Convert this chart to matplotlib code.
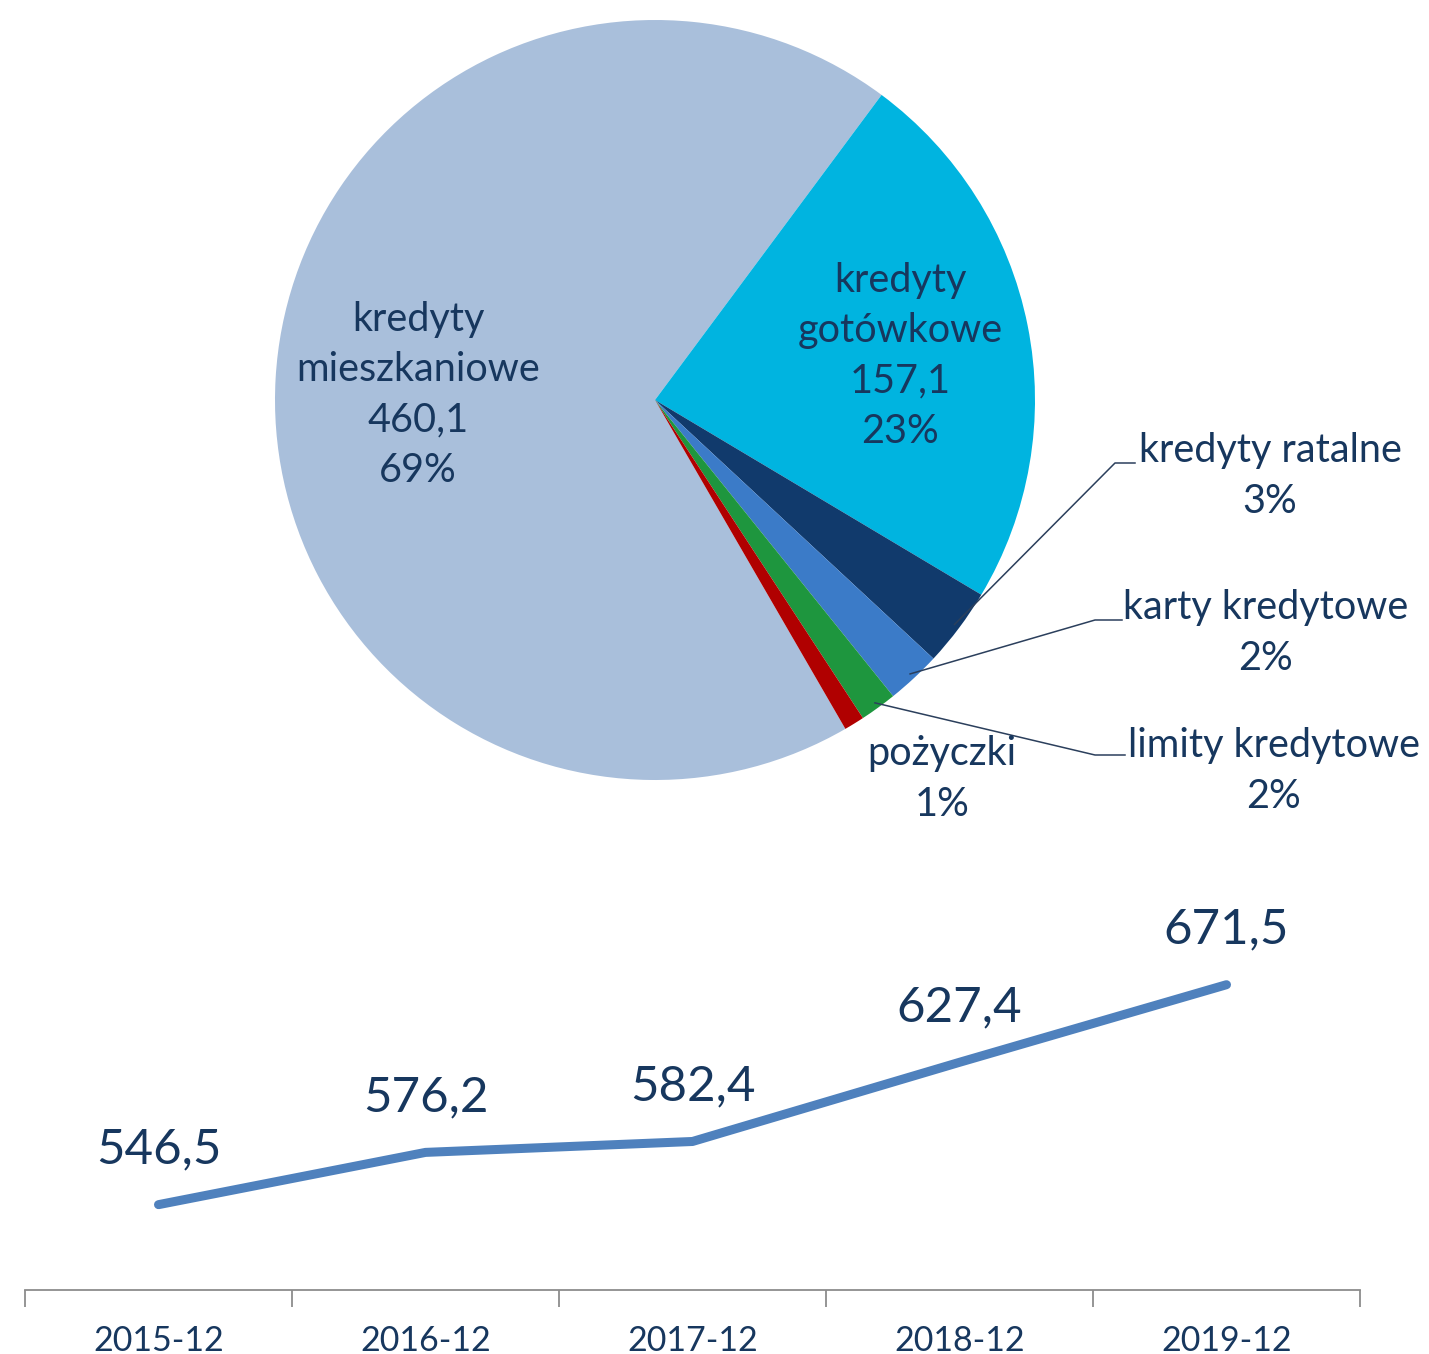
import matplotlib.pyplot as plt
import numpy as np

plt.rcParams['font.family'] = ['Lato', 'DejaVu Sans']

# --- dane ---
kategorie = ['kredyty\nmieszkaniowe', 'kredyty\ngotówkowe', 'kredyty ratalne',
             'karty kredytowe', 'limity kredytowe', 'pożyczki']
wartosci = [460.1, 157.1, 22.5, 15.5, 10.5, 5.8]
kolory = ['#A9BFDB', '#00B4E0', '#113A6C', '#3B7BC8', '#1E963E', '#B00000']

okresy = ['2015-12', '2016-12', '2017-12', '2018-12', '2019-12']
saldo = [546.5, 576.2, 582.4, 627.4, 671.5]

TXT = '#17375E'
W, H = 1429, 1354
fig = plt.figure(figsize=(W / 100, H / 100), dpi=100)

# --- wykres kołowy ---
# środek koła w pikselach (655, 400), promień 380
cx, cy, R = 655, 400, 380
top_h = 840
ax = fig.add_axes([0, 1 - top_h / H, 1, top_h / H])
total = sum(wartosci)
start = 53.4 + 360 * wartosci[0] / total
wedges, _ = ax.pie(wartosci, colors=kolory, startangle=start, counterclock=False,
                   radius=1, wedgeprops=dict(linewidth=0))
ax.set_xlim(-cx / R, (W - cx) / R)
ax.set_ylim(-(top_h - cy) / R, cy / R)
ax.set_aspect('equal')
ax.axis('off')


def px(x, y):
    return (x - cx) / R, (cy - y) / R


fs = 28.5
ls = 1.45
proc = [round(100 * v / total) for v in wartosci]
fmt = lambda v: f'{v:.1f}'.replace('.', ',')

# etykiety wewnątrz
ax.text(*px(418, 395), f'{kategorie[0]}\n{fmt(wartosci[0])}\n{proc[0]}%', ha='center',
        va='center', fontsize=fs, color=TXT, linespacing=ls)
ax.text(*px(900, 356), f'{kategorie[1]}\n{fmt(wartosci[1])}\n{proc[1]}%', ha='center',
        va='center', fontsize=fs, color=TXT, linespacing=ls)

# etykiety zewnętrzne z liniami
zew = [(2, (1115, 463), (1138, 476), 1270),
       (3, (1095, 620), (1125, 633), 1266),
       (4, (1095, 755), (1128, 771), 1274)]
for i, (ex, ey), (tx, ty), tcx in zew:
    w = wedges[i]
    mid = np.deg2rad((w.theta1 + w.theta2) / 2)
    x0, y0 = 0.985 * np.cos(mid), 0.985 * np.sin(mid)
    e = px(ex, ey)
    e2 = px(tx - 3, ey)
    ax.plot([x0, e[0], e2[0]], [y0, e[1], e2[1]], color='#2B3F5C', lw=1.1)
    ax.text(*px(tcx, ty), f'{kategorie[i]}\n{proc[i]}%', ha='center', va='center',
            fontsize=fs, color=TXT, linespacing=ls)

ax.text(*px(942, 779), f'{kategorie[5]}\n{proc[5]}%', ha='center', va='center',
        fontsize=fs, color=TXT, linespacing=ls)

# --- wykres liniowy ---
axl = fig.add_axes([25 / W, 1 - 1290 / H, 1335 / W, 410 / H])
x = np.arange(len(okresy))
axl.plot(x, saldo, color='#4F81BD', lw=6.5, solid_capstyle='round',
         solid_joinstyle='round')
for xi, v in zip(x, saldo):
    axl.annotate(fmt(v), (xi, v), xytext=(0, 55), textcoords='offset pixels',
                 ha='center', va='center', fontsize=35.5, color=TXT)
axl.set_xlim(-0.5, len(okresy) - 0.5)
axl.set_ylim(498, 731)
for s in ['top', 'right', 'left']:
    axl.spines[s].set_visible(False)
axl.spines['bottom'].set_color('#8C8C8C')
axl.spines['bottom'].set_linewidth(1.3)
axl.set_yticks([])
axl.set_xticks(np.arange(-0.5, len(okresy)), labels=[])
axl.set_xticks(x, labels=okresy, minor=True)
axl.tick_params(axis='x', which='major', length=12, width=1.3, color='#8C8C8C',
                direction='out')
axl.tick_params(axis='x', which='minor', length=0, pad=25, labelsize=24.5,
                labelcolor=TXT)
axl.patch.set_alpha(0)

fig.savefig('out.png', dpi=100)
